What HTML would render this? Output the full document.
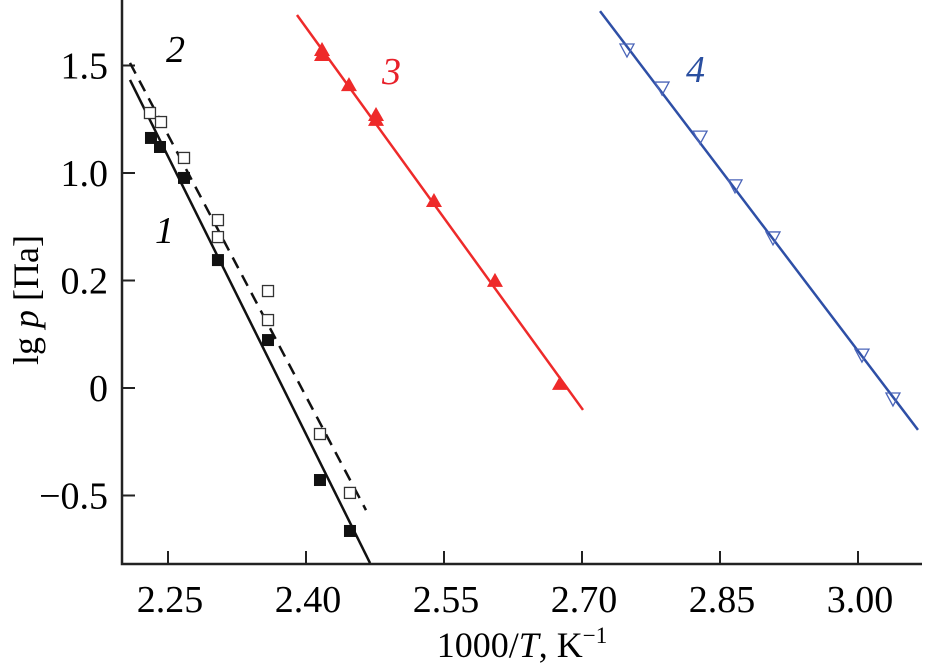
<!DOCTYPE html>
<html><head><meta charset="utf-8"><style>
html,body{margin:0;padding:0;background:#fff;}
svg, svg text{font-family:"Liberation Serif","Times New Roman",serif;}
svg{display:block;}
</style></head><body>
<svg id="chart" width="925" height="668" viewBox="0 0 925 668" xmlns="http://www.w3.org/2000/svg">
<g id="axes"></g>
<g id="marks"></g>
<text x="155" y="243" font-size="38" font-style="italic" font-family="Liberation Serif, serif">1</text>
<text x="166" y="62" font-size="38" font-style="italic" font-family="Liberation Serif, serif">2</text>
<text x="382" y="84" font-size="38" font-style="italic" fill="#e8202a" font-family="Liberation Serif, serif">3</text>
<text x="686" y="82" font-size="38" font-style="italic" fill="#2a4fa0" font-family="Liberation Serif, serif">4</text>
<text transform="translate(38,300) rotate(-90)" text-anchor="middle" font-size="36" font-family="Liberation Serif, serif">lg <tspan font-style="italic">p</tspan> [Па]</text>
<text x="522" y="657" text-anchor="middle" font-size="36" font-family="Liberation Serif, serif">1000/<tspan font-style="italic">T</tspan>, K<tspan font-size="23" dy="-14">−1</tspan></text>
</svg>
<script>
const xTicks=[2.25,2.40,2.55,2.70,2.85,3.00];
const xTickLabels=["2.25","2.40","2.55","2.70","2.85","3.00"];
const yTicks=[1.5,1.0,0.5,0,-0.5];
const yTickLabels=["1.5","1.0","0.2","0","−0.5"];
const s1x=[2.2315,2.2413,2.2674,2.3043,2.3587,2.4152,2.4478];
const s1y=[1.163,1.121,0.977,0.595,0.223,-0.428,-0.665];
const s2x=[2.2304,2.2424,2.2674,2.3043,2.3043,2.3587,2.3587,2.4152,2.4478];
const s2y=[1.279,1.237,1.070,0.781,0.702,0.451,0.316,-0.214,-0.488];
const s3x=[2.4174,2.4174,2.4467,2.4761,2.4761,2.5391,2.6054,2.6761];
const s3y=[1.572,1.549,1.409,1.270,1.247,0.870,0.498,0.019];
const s4x=[2.7489,2.7870,2.8283,2.8663,2.9076,3.0043,3.0380];
const s4y=[1.572,1.395,1.167,0.940,0.698,0.153,-0.051];
const fit1x=[2.2087,2.4696], fit1y=[1.433,-0.814];
const fit2x=[2.2087,2.4652], fit2y=[1.512,-0.568];
const fit3x=[2.3902,2.7011], fit3y=[1.735,-0.102];
const fit4x=[2.7196,3.0652], fit4y=[1.753,-0.195];

const X=v=>168+(v-2.25)*920;
const Y=v=>388-215*v;
const NS="http://www.w3.org/2000/svg";
function mk(tag,attrs,parent){const e=document.createElementNS(NS,tag);for(const k in attrs)e.setAttribute(k,attrs[k]);parent.appendChild(e);return e;}
const axes=document.getElementById('axes'), marks=document.getElementById('marks');
let e;
e=mk('path',{d:'M122,0 V564 H922',fill:'none',stroke:'#222','stroke-width':2.5},axes);


xTicks.forEach((t,i)=>{
  e=mk('line',{x1:X(t),x2:X(t),y1:564,y2:551,stroke:'#222','stroke-width':2},axes);
  
  
  e=mk('text',{x:X(t)+2,y:612,'text-anchor':'middle','font-size':38,'font-family':'Liberation Serif, serif'},axes);
  e.textContent=xTickLabels[i];
  
  
});
yTicks.forEach((t,i)=>{
  e=mk('line',{x1:122,x2:135,y1:Y(t),y2:Y(t),stroke:'#222','stroke-width':2},axes);
  
  
  e=mk('text',{x:108,y:Y(t)+13,'text-anchor':'end','font-size':38,'font-family':'Liberation Serif, serif'},axes);
  e.textContent=yTickLabels[i];
  
  
});
function fit(xs,ys,col,dash,name){
  e=mk('line',{x1:X(xs[0]),y1:Y(ys[0]),x2:X(xs[1]),y2:Y(ys[1]),stroke:col,'stroke-width':2.5},marks);
  if(dash)e.setAttribute('stroke-dasharray','12,8');
  
  
}
fit(fit1x,fit1y,'#111',false,'fit-line-1');
fit(fit2x,fit2y,'#111',true,'fit-line-2');
fit(fit3x,fit3y,'#ee2a2a',false,'fit-line-3');
fit(fit4x,fit4y,'#2e4fa6',false,'fit-line-4');
s1x.forEach((v,i)=>{const cx=X(v),cy=Y(s1y[i]);
  e=mk('rect',{x:cx-6,y:cy-6,width:12,height:12,fill:'#111'},marks);
  
  });
s2x.forEach((v,i)=>{const cx=X(v),cy=Y(s2y[i]);
  e=mk('rect',{x:cx-5.5,y:cy-5.5,width:11,height:11,fill:'#fff',stroke:'#333','stroke-width':1.3},marks);
  
  });
s3x.forEach((v,i)=>{const cx=X(v),cy=Y(s3y[i]);
  e=mk('polygon',{points:`${cx},${cy-8} ${cx-8},${cy+6} ${cx+8},${cy+6}`,fill:'#ee2a2a'},marks);
  
  });
s4x.forEach((v,i)=>{const cx=X(v),cy=Y(s4y[i]);
  e=mk('polygon',{points:`${cx-7},${cy-6} ${cx+7},${cy-6} ${cx},${cy+7}`,fill:'none',stroke:'#4a64b8','stroke-width':1.3},marks);
  
  });
</script>
</body></html>
